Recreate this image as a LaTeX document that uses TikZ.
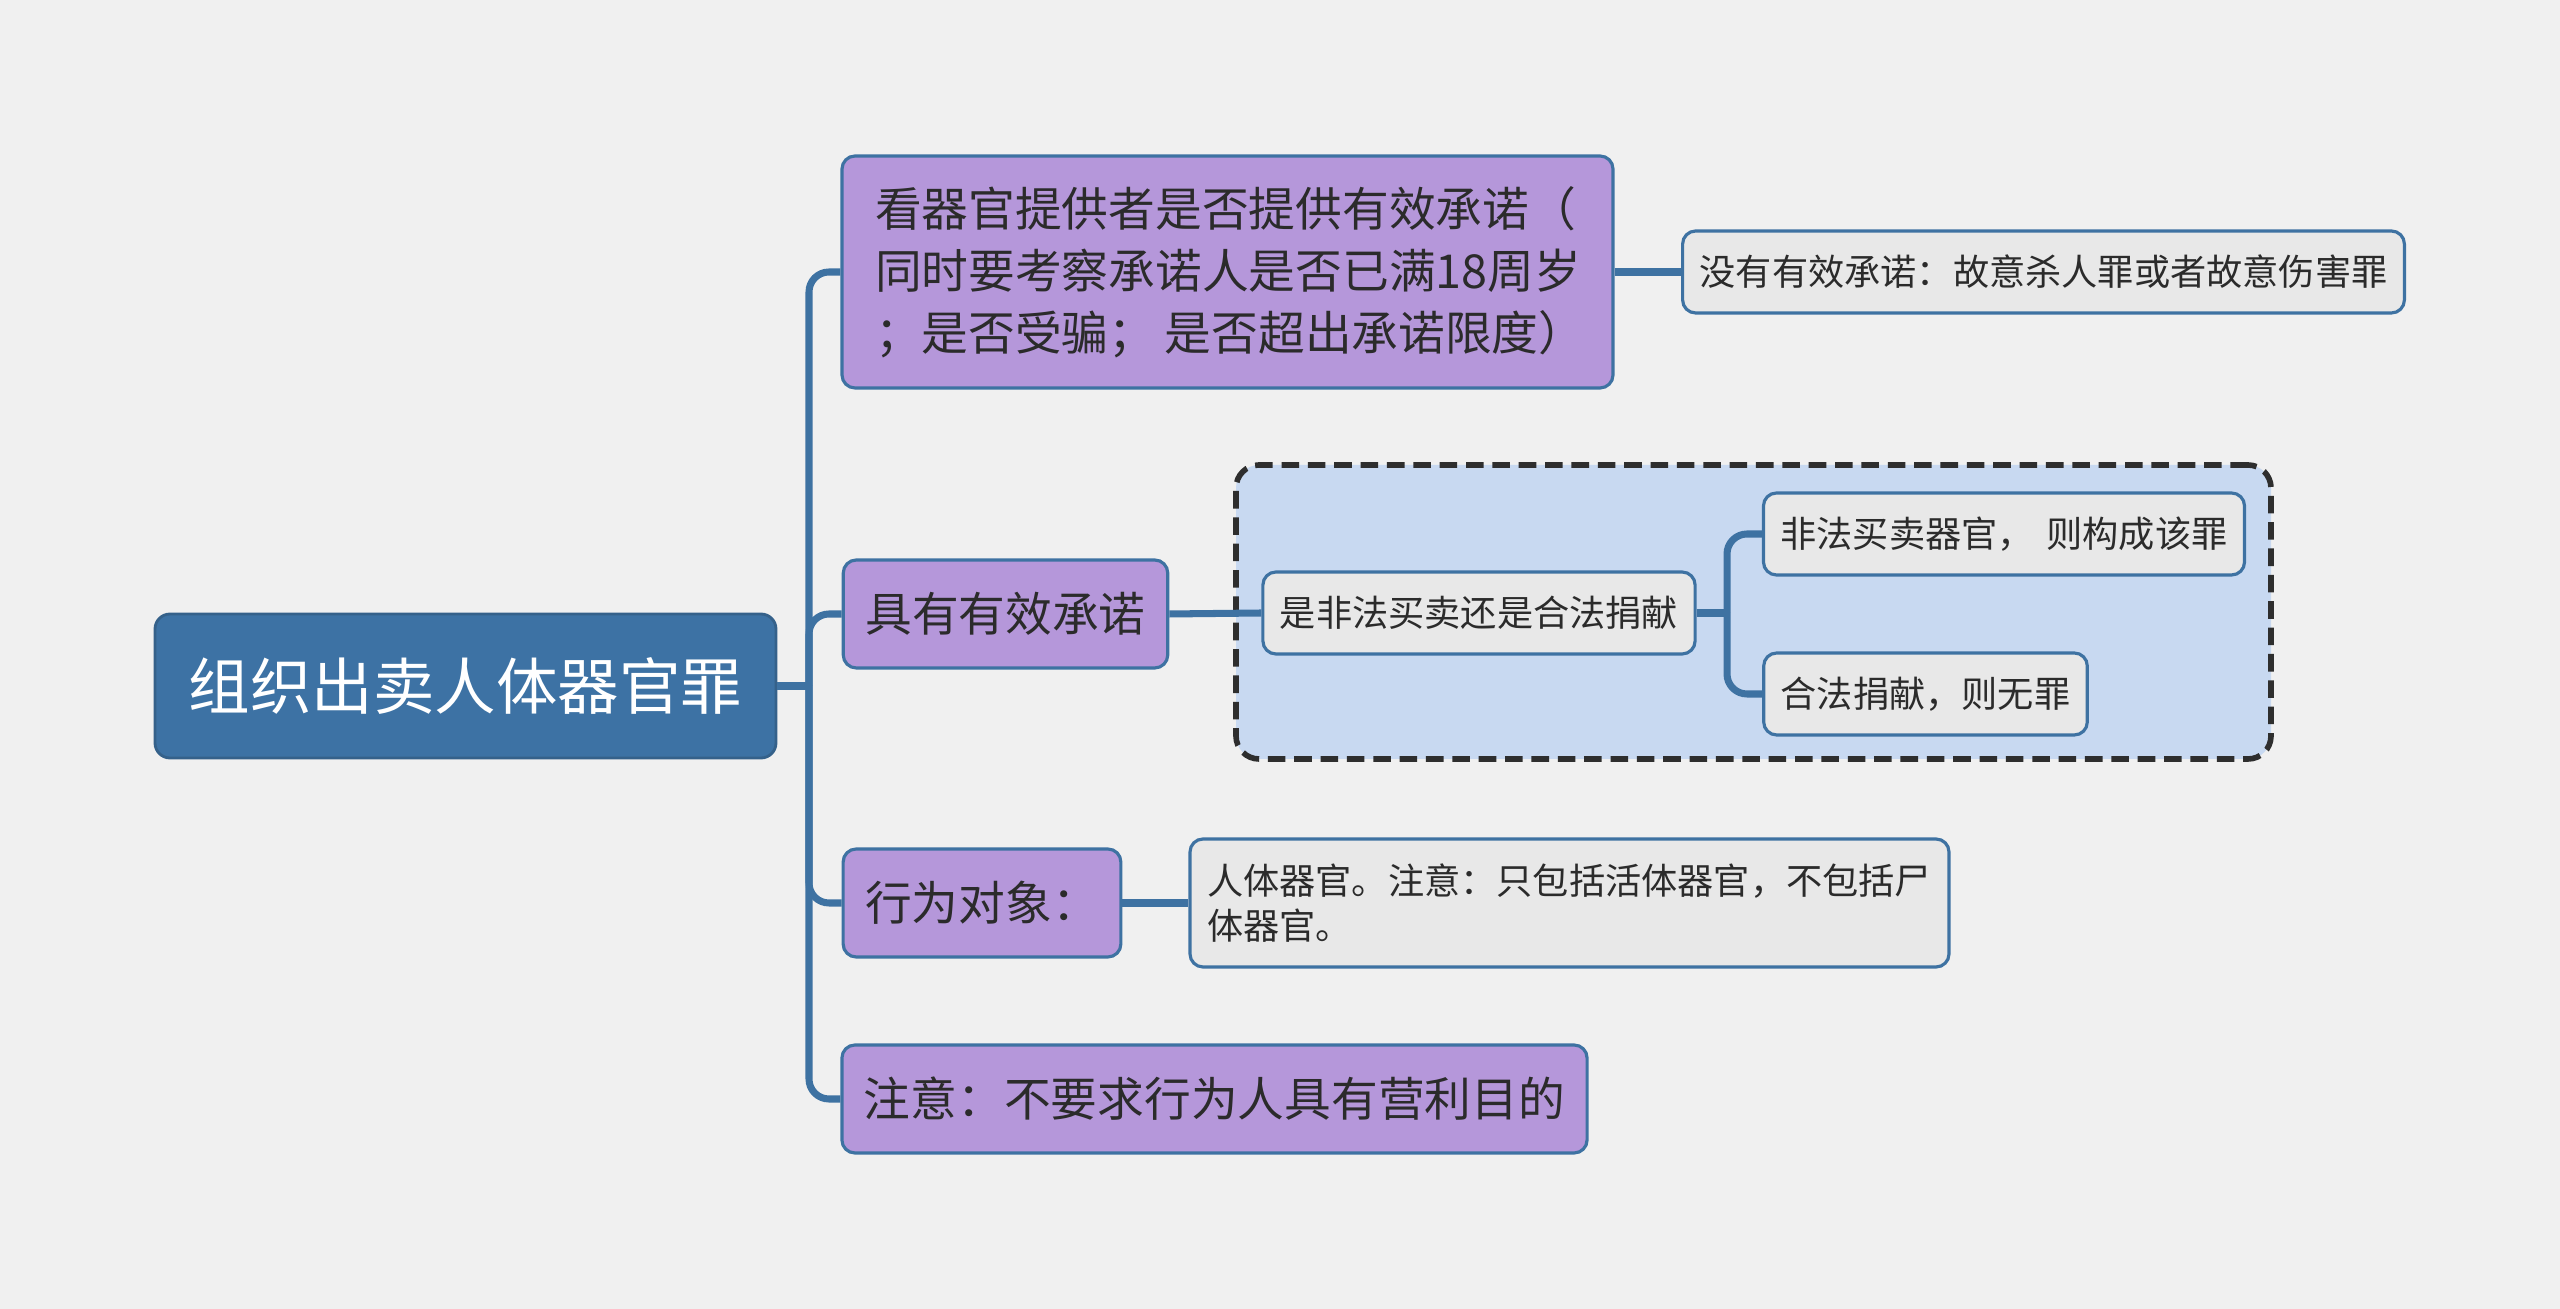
\documentclass[tikz,border=0pt]{standalone}
\usepackage{fontspec}
\setmainfont{Noto Sans CJK SC}
\usepackage{xcolor}
\usepackage{tikz}
\definecolor{bgColor}{HTML}{F0F0F0}
\definecolor{rootFill}{HTML}{3D72A4}
\definecolor{lineColor}{HTML}{3E72A2}
\definecolor{topicFill}{HTML}{B597DA}
\definecolor{leafFill}{HTML}{E8E8E8}
\definecolor{groupFill}{HTML}{C8D9F1}
\definecolor{groupFrame}{HTML}{2E2E2E}
\definecolor{textColor}{HTML}{2B2B2B}

\begin{document}
\begin{tikzpicture}[
    rootbox/.style={draw=lineColor!85!black, fill=rootFill, rounded corners=0.15cm, line width=0.8pt,
        text=white, font=\fontsize{17.5pt}{21pt}\selectfont, minimum width=6.21cm, minimum height=1.44cm},
    topicbox/.style={draw=lineColor, fill=topicFill, rounded corners=0.13cm, line width=0.9pt,
        text=textColor, font=\fontsize{13.3pt}{17.6pt}\selectfont, inner xsep=0.22cm, minimum height=1.08cm},
    leafbox/.style={draw=lineColor, fill=leafFill, rounded corners=0.13cm, line width=0.9pt,
        text=textColor, font=\fontsize{10.3pt}{13pt}\selectfont, inner xsep=0.17cm, minimum height=0.82cm},
    groupbox/.style={draw=groupFrame, fill=groupFill, rounded corners=0.23cm, line width=1.6pt,
        dash pattern=on 5pt off 2.5pt},
    conn/.style={draw=lineColor, line width=2pt, rounded corners=0.2cm},
]
    \fill[bgColor] (0,0) rectangle (25.6,-13.09);
    \useasboundingbox (0,0) rectangle (25.6,-13.09);

    \node[groupbox, minimum width=10.35cm, minimum height=2.94cm] (group) at (17.535,-6.12) {};

    \node[rootbox] (root) at (4.655,-6.86) {组织出卖人体器官罪};

    \node[topicbox, inner xsep=0.33cm, minimum width=7.71cm, minimum height=2.32cm, text width=7.05cm, align=left]
        (consent) at (12.275,-2.72)
        {看器官提供者是否提供有效承诺（\\同时要考察承诺人是否已满18周岁\\\mbox{；是否受骗；\hspace{0.2em}是否超出承诺限度）}};
    \node[topicbox] (valid) at (10.055,-6.14) {具有有效承诺};
    \node[topicbox] (object) at (9.82,-9.03) {行为对象：};
    \node[topicbox] (note) at (12.145,-10.99) {注意：不要求行为人具有营利目的};

    \node[leafbox] (noconsent) at (20.435,-2.72) {没有有效承诺：故意杀人罪或者故意伤害罪};
    \node[leafbox] (trade) at (14.79,-6.13) {是非法买卖还是合法捐献};
    \node[leafbox] (illegal) at (20.04,-5.34) {非法买卖器官，\hspace{0.35em}则构成该罪};
    \node[leafbox] (donate) at (19.255,-6.94) {合法捐献，则无罪};
    \node[leafbox, minimum width=7.59cm, minimum height=1.28cm, text width=7.25cm, align=left]
        (organ) at (15.695,-9.03) {人体器官。注意：只包括活体器官，不包括尸\\体器官。};

    % trunk from the root
    \coordinate (trunk) at (8.09,-6.86);
    \draw[conn] (root.east) -- (trunk);
    \foreach \n in {consent, valid, object, note}
        \draw[conn] (trunk) |- (\n.west);

    \draw[conn] (consent.east) -- (noconsent.west);
    \draw[conn] (valid.east) -- (trade.west);
    \draw[conn] (object.east) -- (organ.west);

    % fork inside the group
    \coordinate (fork) at (17.27,-6.13);
    \draw[conn] (trade.east) -- (fork);
    \draw[conn] (fork) |- (illegal.west);
    \draw[conn] (fork) |- (donate.west);
\end{tikzpicture}
\end{document}
